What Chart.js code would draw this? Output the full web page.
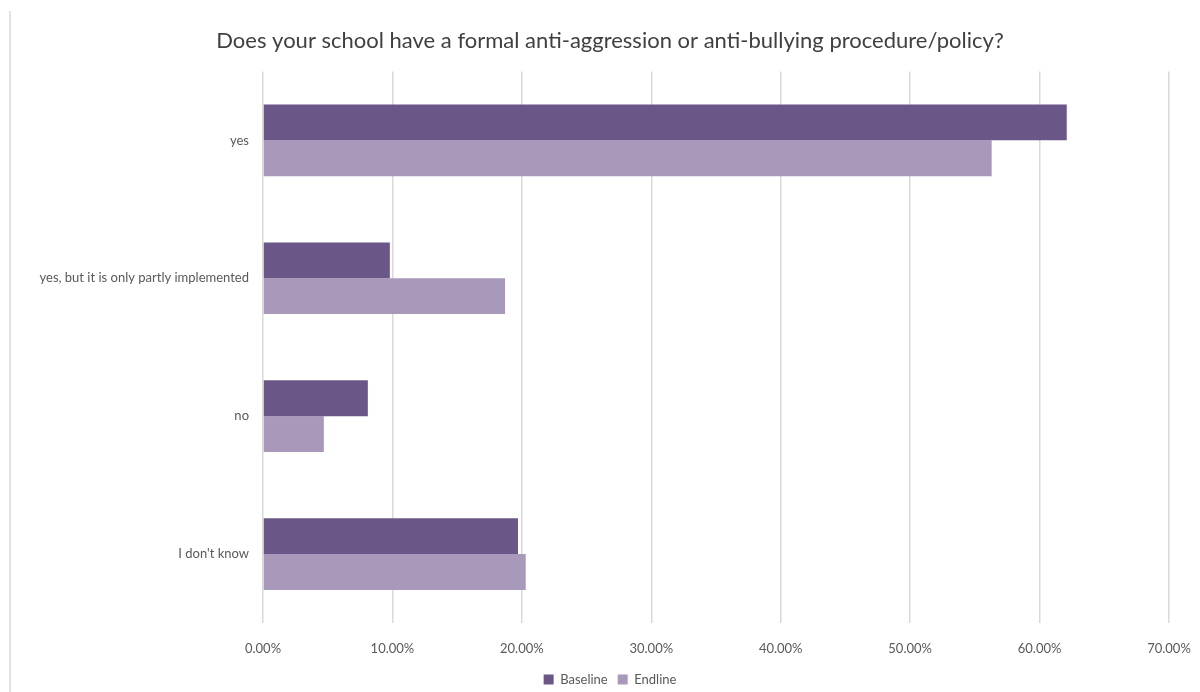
<!DOCTYPE html>
<html>
<head>
<meta charset="utf-8">
<script src="https://cdn.jsdelivr.net/npm/chart.js@4.4.1/dist/chart.umd.min.js"></script>
<style>
  html, body { margin: 0; padding: 0; background: #ffffff; }
  #wrap { position: relative; width: 1200px; height: 692px; }
</style>
</head>
<body>
<div id="wrap"><canvas id="c" width="1200" height="692"></canvas></div>
<script>
const titleText = "Does your school have a formal anti-aggression or anti-bullying procedure/policy?";
const categories = ["yes", "yes, but it is only partly implemented", "no", "I don't know"];
const baseline = [62.1, 9.8, 8.1, 19.7];
const endline = [56.3, 18.7, 4.7, 20.3];
const seriesNames = ["Baseline", "Endline"];
const xTicks = [0, 10, 20, 30, 40, 50, 60, 70];

const FONT = "Lato, 'Open Sans', 'Liberation Sans', sans-serif";
const TEXT = "#595959";

const frameLine = {
  id: "frameLine",
  beforeDraw(chart) {
    const ctx = chart.ctx;
    ctx.save();
    ctx.strokeStyle = "#d9d9d9";
    ctx.lineWidth = 1.5;
    ctx.beginPath();
    ctx.moveTo(10, 11);
    ctx.lineTo(10, 692);
    ctx.stroke();
    ctx.restore();
  }
};

new Chart(document.getElementById("c"), {
  type: "bar",
  data: {
    labels: categories,
    datasets: [
      { label: seriesNames[0], data: baseline, backgroundColor: "#6b5787", borderWidth: 0 },
      { label: seriesNames[1], data: endline, backgroundColor: "#a899bb", borderWidth: 0 }
    ]
  },
  options: {
    indexAxis: "y",
    responsive: false,
    animation: false,
    devicePixelRatio: 1,
    categoryPercentage: 0.52,
    barPercentage: 1.0,
    layout: { padding: { left: 20, right: 0, top: 0, bottom: -4 } },
    plugins: {
      title: {
        display: true,
        text: titleText,
        color: "#404040",
        font: { family: FONT, size: 22, weight: "normal" },
        padding: { top: 28, bottom: 17 }
      },
      legend: {
        position: "bottom",
        labels: {
          color: TEXT,
          font: { family: FONT, size: 13 },
          boxWidth: 10,
          boxHeight: 10,
          padding: 10
        }
      },
      tooltip: { enabled: false }
    },
    scales: {
      x: {
        min: 0,
        max: 70,
        afterBuildTicks(axis) { axis.ticks = xTicks.map(v => ({ value: v })); },
        afterFit(axis) { axis.height = 40; axis.paddingLeft = 0; axis.paddingRight = 0; },
        ticks: {
          color: TEXT,
          font: { family: FONT, size: 13 },
          padding: 18,
          callback: v => v.toFixed(2) + "%"
        },
        grid: { color: "#d9d9d9", lineWidth: 1.5, drawTicks: false },
        border: { display: false }
      },
      y: {
        afterFit(axis) { axis.width = 243; },
        ticks: {
          color: TEXT,
          font: { family: FONT, size: 13 },
          padding: 14
        },
        grid: { display: false, drawTicks: false },
        border: { display: false }
      },
      yRight: {
        type: "category",
        position: "right",
        afterFit(axis) { axis.width = 31; },
        ticks: { display: false },
        grid: { display: false, drawTicks: false },
        border: { display: false }
      }
    }
  },
  plugins: [frameLine]
});
</script>
</body>
</html>
